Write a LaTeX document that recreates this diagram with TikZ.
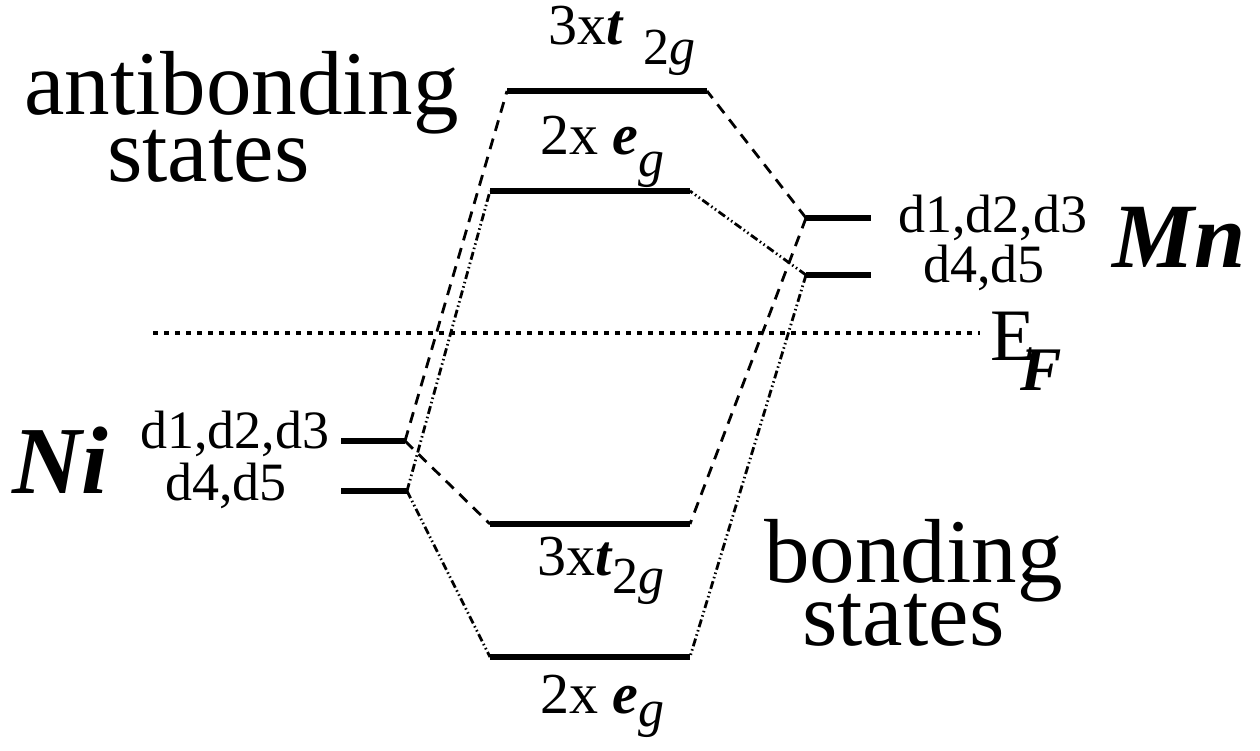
\documentclass[tikz,border=0pt]{standalone}
\usepackage{fontspec}
\setmainfont{Liberation Serif}
\newcommand\bigtxt{\fontsize{91}{91}\selectfont}
\newcommand\dtxt{\fontsize{54}{54}\selectfont}
\newcommand\orbtxt{\fontsize{58}{58}\selectfont}
\newcommand\subtxt{\fontsize{52}{52}\selectfont}
\newcommand\bi[1]{\textbf{\textit{#1}}}

\begin{document}
\begin{tikzpicture}[x=1pt,y=-1pt,
  orbital/.style={line width=5.5pt},
  dashlink/.style={line width=2.8pt,dash pattern=on 11pt off 8pt},
  dotlink/.style={line width=2.8pt,dash pattern=on 8pt off 3pt on 1.5pt off 3pt on 1.5pt off 3pt},
  fermi/.style={line width=3.2pt,dash pattern=on 5pt off 6pt},
  txt/.style={inner sep=0pt,anchor=base west}]
  \useasboundingbox (0,0) rectangle (1260,751);

  % level end points
  \coordinate (niA-l) at (341,441);  \coordinate (niA-r) at (405,441);
  \coordinate (niB-l) at (341,491);  \coordinate (niB-r) at (407,491);
  \coordinate (mnA-l) at (806,218);  \coordinate (mnA-r) at (871,218);
  \coordinate (mnB-l) at (806,275);  \coordinate (mnB-r) at (871,275);
  \coordinate (at2g-l) at (507,91);  \coordinate (at2g-r) at (707,91);
  \coordinate (aeg-l) at (490,191);  \coordinate (aeg-r) at (690,191);
  \coordinate (bt2g-l) at (490,524); \coordinate (bt2g-r) at (690,524);
  \coordinate (beg-l) at (490,657);  \coordinate (beg-r) at (690,657);
  \coordinate (ef-l) at (153,333);   \coordinate (ef-r) at (980,333);

  \draw[orbital] (niA-l) -- (niA-r);
  \draw[orbital] (niB-l) -- (niB-r);
  \draw[orbital] (mnA-l) -- (mnA-r);
  \draw[orbital] (mnB-l) -- (mnB-r);
  \draw[orbital] (at2g-l) -- (at2g-r);
  \draw[orbital] (aeg-l) -- (aeg-r);
  \draw[orbital] (bt2g-l) -- (bt2g-r);
  \draw[orbital] (beg-l) -- (beg-r);

  \draw[fermi] (ef-l) -- (ef-r);

  \draw[dashlink] (niA-r) -- (at2g-l);
  \draw[dashlink] (niA-r) -- (bt2g-l);
  \draw[dashlink] (mnA-l) -- (at2g-r);
  \draw[dashlink] (mnA-l) -- (bt2g-r);
  \draw[dotlink] (niB-r) -- (aeg-l);
  \draw[dotlink] (niB-r) -- (beg-l);
  \draw[dotlink] (mnB-l) -- (aeg-r);
  \draw[dotlink] (mnB-l) -- (beg-r);

  \node[txt] (anti) at (24,115) {\bigtxt antibonding};
  \node[txt] (antist) at (107,182) {\bigtxt states};
  \node[txt] (bond) at (764,582) {\bigtxt bonding};
  \node[txt] (bondst) at (802,645) {\bigtxt states};

  \node[txt] (ni) at (12,493) {\fontsize{96}{96}\selectfont\bi{Ni}};
  \node[txt] (mn) at (1112,268) {\fontsize{92}{92}\selectfont\bi{Mn}};
  \node[txt] (nid1) at (140,448) {\dtxt d1,d2,d3};
  \node[txt] (nid4) at (165,500) {\dtxt d4,d5};
  \node[txt] (mnd1) at (898,233) {\dtxt d1,d2,d3};
  \node[txt] (mnd4) at (923,283) {\dtxt d4,d5};

  \node[txt] (ef) at (990,360) {\fontsize{74}{74}\selectfont E};
  \node[txt] (efsub) at (1020,390) {\fontsize{62}{62}\selectfont\bi{F}};

  \node[txt] (at2g) at (548,45) {\orbtxt 3x\bi{t}\hspace{20pt}\raisebox{-20pt}{\subtxt 2\textit{g}}};
  \node[txt] (aeg) at (540,155) {\orbtxt 2x \bi{e}\raisebox{-22pt}{\subtxt\textit{g}}};
  \node[txt] (bt2g) at (537,575) {\orbtxt 3x\bi{t}\raisebox{-18pt}{\subtxt 2\textit{g}}};
  \node[txt] (beg) at (540,713) {\orbtxt 2x \bi{e}\raisebox{-13pt}{\subtxt\textit{g}}};
\end{tikzpicture}
\end{document}
